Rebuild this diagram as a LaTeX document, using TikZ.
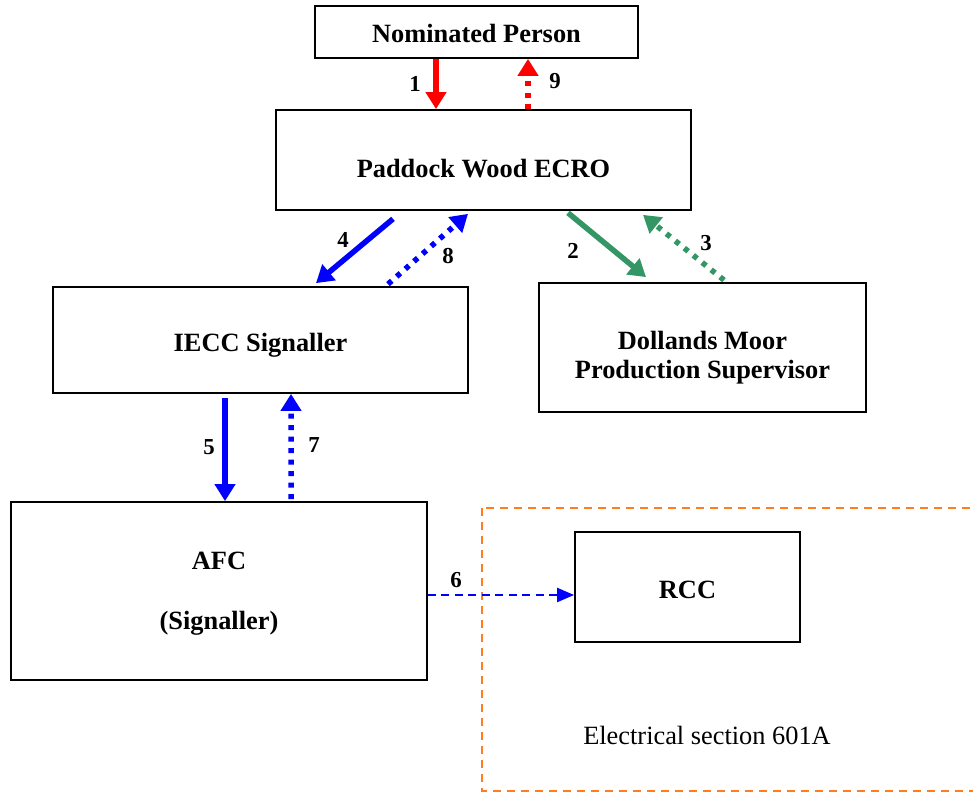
\documentclass[tikz,border=0pt]{standalone}
\usepackage{fontspec}
\setmainfont{Liberation Serif}
\usepackage{xcolor}
\usetikzlibrary{arrows.meta}
\definecolor{ecgreen}{RGB}{51,150,100}
\definecolor{secorange}{RGB}{255,125,30}

\begin{document}
\begin{tikzpicture}
  \tikzset{box/.style = {shape=rectangle,draw,line width=1pt,inner sep=0pt}}
  \tikzset{boxtext/.style = {font=\fontsize{15}{14.7}\selectfont\bfseries,align=center,inner sep=0pt}}
  \tikzset{num/.style = {font=\fontsize{13}{15}\selectfont\bfseries,inner sep=0pt}}
  \tikzset{%
  tipT/.tip={Triangle[length=0.34cm,width=0.4cm]},
  tipS/.tip={Triangle[length=0.34cm,width=0.28cm]},
}
  \tikzset{fullarrow/.style = {-tipT,line width=0.11cm}}
  \tikzset{dotarrow/.style = {-tipT,line width=0.11cm,dash pattern=on 0.1cm off 0.13cm}}
  \tikzset{dasharrow/.style = {-tipS,line width=0.04cm,dash pattern=on 0.16cm off 0.11cm}}

  \useasboundingbox (0,0) rectangle (19.46,-15.86);

	% the section box
	\draw[secorange,line width=0.04cm,dash pattern=on 0.16cm off 0.12cm] (9.64,-10.16) rectangle (20.2,-15.82);
	\node[font=\fontsize{15}{18}\selectfont] (SEC) at (14.14,-14.7) {Electrical section 601A};

	\node[box,minimum width=6.46cm,minimum height=1.04cm,label={[boxtext,yshift=-0.02cm]center:Nominated Person}] (NP) at (9.53,-0.64) {};
	\node[box,minimum width=8.3cm,minimum height=2.0cm,label={[boxtext,yshift=-0.18cm]center:Paddock Wood ECRO}] (ECRO) at (9.67,-3.2) {};
	\node[box,minimum width=8.3cm,minimum height=2.12cm,label={[boxtext,yshift=-0.1cm]center:IECC Signaller}] (IECC) at (5.21,-6.8) {};
	\node[box,minimum width=6.54cm,minimum height=2.58cm,label={[boxtext,yshift=-0.2cm]center:{Dollands Moor\\[1.5pt]Production Supervisor}}] (DM) at (14.05,-6.95) {};
	\node[box,minimum width=8.32cm,minimum height=3.56cm,label={[boxtext,yshift=-0.06cm]center:{AFC\\[19.6pt](Signaller)}}] (AFC) at (4.38,-11.82) {};
	\node[box,minimum width=4.5cm,minimum height=2.2cm,label={[boxtext,yshift=-0.06cm]center:RCC}] (RCC) at (13.75,-11.74) {};

	% requests down, replies back up
	\draw[fullarrow,red] ([xshift=-0.81cm]NP.south) -- node[num,black,xshift=-0.42cm]{1} ([xshift=-0.95cm]ECRO.north);
	\draw[dotarrow,red] ([xshift=0.89cm]ECRO.north) -- node[num,black,xshift=0.54cm,yshift=0.06cm]{9} ([xshift=1.03cm]NP.south);

	\draw[fullarrow,ecgreen] ([xshift=1.69cm,yshift=-0.04cm]ECRO.south) -- node[num,black,xshift=-0.68cm,yshift=-0.12cm]{2} ([xshift=-1.13cm,yshift=0.1cm]DM.north);
	\draw[dotarrow,ecgreen] ([xshift=0.43cm,yshift=0.04cm]DM.north) -- node[num,black,xshift=0.45cm,yshift=0.09cm]{3} ([xshift=3.19cm,yshift=-0.08cm]ECRO.south);

	\draw[fullarrow,blue] ([xshift=-1.81cm,yshift=-0.16cm]ECRO.south) -- node[num,black,xshift=-0.23cm,yshift=0.22cm]{4} ([xshift=1.11cm,yshift=0.06cm]IECC.north);
	\draw[dotarrow,blue] ([xshift=2.55cm,yshift=0.04cm]IECC.north) -- node[num,black,xshift=0.4cm,yshift=-0.14cm]{8} ([xshift=-0.31cm,yshift=-0.06cm]ECRO.south);

	\draw[fullarrow,blue] ([xshift=-0.71cm,yshift=-0.08cm]IECC.south) -- node[num,black,xshift=-0.32cm,yshift=0.05cm]{5} ([xshift=0.12cm]AFC.north);
	\draw[dotarrow,blue] ([xshift=1.44cm,yshift=0.04cm]AFC.north) -- node[num,black,xshift=0.46cm,yshift=0.02cm]{7} ([xshift=0.61cm]IECC.south);

	\draw[dasharrow,blue] ([yshift=-0.08cm]AFC.east) -- node[num,black,xshift=-0.9cm,yshift=0.3cm]{6} ([yshift=-0.16cm]RCC.west);

\end{tikzpicture}
\end{document}
